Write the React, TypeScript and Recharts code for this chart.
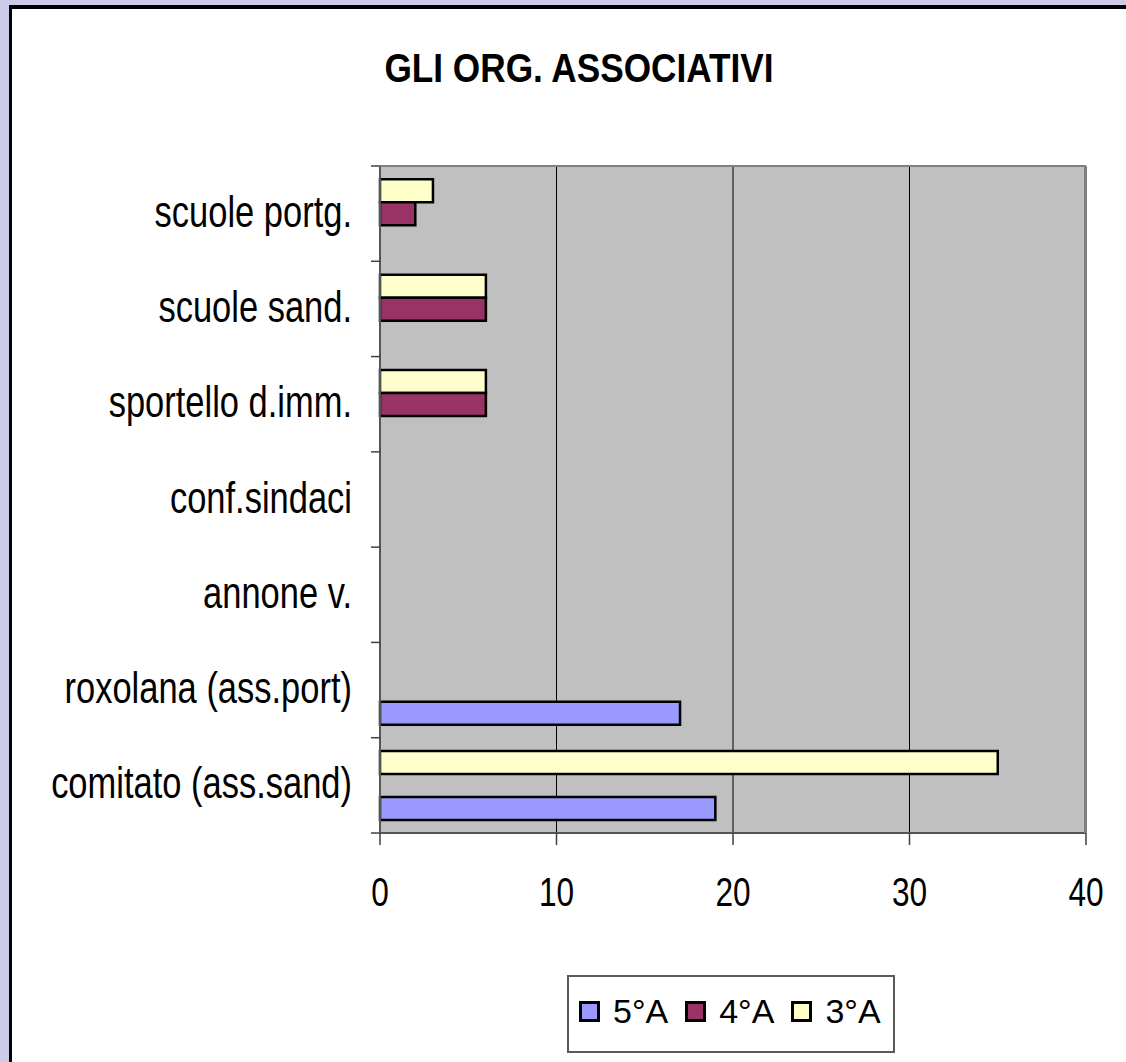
import { BarChart, Bar, XAxis, YAxis, CartesianGrid } from 'recharts'

const categories = ['scuole portg.', 'scuole sand.', 'sportello d.imm.', 'conf.sindaci', 'annone v.', 'roxolana (ass.port)', 'comitato (ass.sand)']
const values5A = [0, 0, 0, 0, 0, 17, 19]
const values4A = [2, 6, 6, 0, 0, 0, 0]
const values3A = [3, 6, 6, 0, 0, 0, 35]
const xTicks = [0, 10, 20, 30, 40]

// legend order as in the original (5°A first), bars drawn top-down 3°A, 4°A, 5°A
const series = [
  { key: 'a5', name: '5°A', color: '#9999FF' },
  { key: 'a4', name: '4°A', color: '#993366' },
  { key: 'a3', name: '3°A', color: '#FFFFCC' },
]

const data = categories.map((name, i) => ({ name, a5: values5A[i], a4: values4A[i], a3: values3A[i] }))

const W = 1126
const H = 1062
const MARGIN = { top: 166, right: 40, bottom: 156, left: 0 }
const X_AXIS_H = 73
const Y_AXIS_W = 380
const BAND = (H - MARGIN.top - MARGIN.bottom - X_AXIS_H) / categories.length
const FONT = '"Liberation Sans", Arial, sans-serif'

function YTick(props: any) {
  const { x, y, payload, index } = props
  const half = BAND / 2
  return (
    <g>
      <line x1={x - 9} x2={x} y1={y - half} y2={y - half} stroke="#404040" strokeWidth={1.5} />
      {index === categories.length - 1 && (
        <line x1={x - 9} x2={x} y1={y + half} y2={y + half} stroke="#404040" strokeWidth={1.5} />
      )}
      <g transform={`translate(${x - 28},${y + 13})`}>
        <text transform="scale(0.784,1)" textAnchor="end" fontFamily={FONT} fontSize={44} fill="#000">
          {payload.value}
        </text>
      </g>
    </g>
  )
}

function XTick(props: any) {
  const { x, y, payload } = props
  return (
    <g transform={`translate(${x},${y + 61})`}>
      <text transform="scale(0.79,1)" textAnchor="middle" fontFamily={FONT} fontSize={40} fill="#000">
        {payload.value}
      </text>
    </g>
  )
}

export default function App() {
  const plotLeft = MARGIN.left + Y_AXIS_W
  const plotRight = W - MARGIN.right
  const plotBottom = H - MARGIN.bottom - X_AXIS_H
  return (
    <div style={{ position: 'relative', width: W, height: H, overflow: 'hidden', background: '#CCCCE8', fontFamily: FONT }}>
      <style>{'body{margin:0}'}</style>
      <div style={{ position: 'absolute', left: 9, top: 5, width: 1300, height: 1300, background: '#fff', borderLeft: '3px solid #000', borderTop: '4px solid #000' }} />
      <div style={{ position: 'absolute', left: 0, top: 48, width: 1158, textAlign: 'center', fontSize: 40, lineHeight: '40px', fontWeight: 'bold', transform: 'scaleX(0.88)', transformOrigin: '579px 0' }}>
        GLI ORG. ASSOCIATIVI
      </div>
      <div style={{ position: 'absolute', left: 0, top: 0 }}>
        <BarChart width={W} height={H} data={data} layout="vertical" margin={MARGIN} barCategoryGap="14%" barGap={0}>
          <CartesianGrid horizontal={false} fill="#C0C0C0" stroke="#000" strokeWidth={1} />
          <XAxis
            type="number"
            domain={[0, 40]}
            ticks={xTicks}
            height={X_AXIS_H}
            tickSize={12}
            tickMargin={0}
            axisLine={{ stroke: '#555', strokeWidth: 2 }}
            tickLine={{ stroke: '#404040', strokeWidth: 1.5 }}
            tick={<XTick />}
            interval={0}
          />
          <YAxis
            type="category"
            dataKey="name"
            width={Y_AXIS_W}
            tickSize={0}
            tickMargin={0}
            tickLine={false}
            axisLine={{ stroke: '#555', strokeWidth: 2 }}
            tick={<YTick />}
            interval={0}
          />
          {[...series].reverse().map((s) => (
            <Bar key={s.key} dataKey={s.key} name={s.name} fill={s.color} stroke="#000" strokeWidth={2.5} isAnimationActive={false} />
          ))}
        </BarChart>
      </div>
      <div style={{ position: 'absolute', left: plotLeft, top: MARGIN.top - 1, width: plotRight - plotLeft, height: plotBottom - MARGIN.top + 1, borderTop: '2px solid #808080', borderRight: '2px solid #808080', boxSizing: 'border-box', pointerEvents: 'none' }} />
      <div style={{ position: 'absolute', left: 567, top: 975, width: 328, height: 78, border: '2px solid #5a5a5a', boxSizing: 'border-box', background: '#fff' }}>
        <div style={{ position: 'absolute', left: 10, top: 17, display: 'flex', alignItems: 'center' }}>
          {series.map((s) => (
            <div key={s.key} style={{ display: 'flex', alignItems: 'center', marginRight: 17 }}>
              <span style={{ display: 'inline-block', width: 21, height: 21, boxSizing: 'border-box', border: '3px solid #000', background: s.color, marginRight: 13 }} />
              <span style={{ fontSize: 34, lineHeight: '34px' }}>{s.name}</span>
            </div>
          ))}
        </div>
      </div>
    </div>
  )
}
